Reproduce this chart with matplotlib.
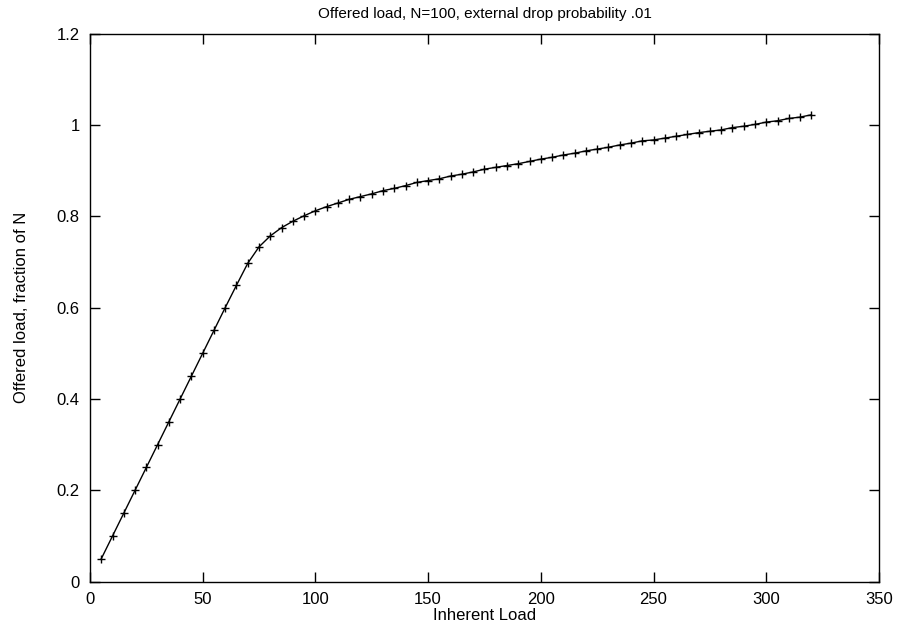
import matplotlib
matplotlib.use('Agg')
import matplotlib.pyplot as plt

# inherent load values (x) and offered load as fraction of N (y)
inherent_load = list(range(5, 325, 5))
offered_load = [
    0.05, 0.10, 0.15, 0.20, 0.25, 0.30, 0.35, 0.40, 0.45, 0.50,
    0.55, 0.60, 0.649, 0.697, 0.733, 0.757, 0.775, 0.789, 0.801, 0.812,
    0.821, 0.829, 0.837, 0.843, 0.849, 0.856, 0.861, 0.867, 0.874, 0.878,
    0.882, 0.888, 0.892, 0.897, 0.903, 0.907, 0.911, 0.915, 0.920, 0.925,
    0.929, 0.934, 0.938, 0.943, 0.947, 0.951, 0.956, 0.960, 0.965, 0.967,
    0.971, 0.975, 0.979, 0.983, 0.986, 0.989, 0.994, 0.997, 1.001, 1.006,
    1.009, 1.014, 1.017, 1.022,
]
x_ticks = [0, 50, 100, 150, 200, 250, 300, 350]
y_ticks = [0, 0.2, 0.4, 0.6, 0.8, 1.0, 1.2]
y_tick_labels = ['0', '0.2', '0.4', '0.6', '0.8', '1', '1.2']

plt.rcParams.update({'font.family': 'Liberation Sans', 'font.size': 12})
fig = plt.figure(figsize=(8.97, 6.25), dpi=100)
ax = fig.add_axes([0.1003, 0.0693, 0.8796, 0.8771])

ax.plot(inherent_load, offered_load, color='black', linewidth=1,
        marker='+', markersize=6, markeredgewidth=1)

ax.set_xlim(0, 350)
ax.set_ylim(0, 1.2)
ax.set_xticks(x_ticks)
ax.set_xticklabels([str(t) for t in x_ticks])
ax.set_yticks(y_ticks)
ax.set_yticklabels(y_tick_labels)
ax.tick_params(direction='in', length=7, width=1, top=True, right=True, pad=7.5)
for s in ax.spines.values():
    s.set_linewidth(1)

ax.set_title('Offered load, N=100, external drop probability .01', fontsize=11, pad=11)
ax.set_xlabel('Inherent Load', labelpad=1)
ax.set_ylabel('Offered load, fraction of N', labelpad=20)

fig.savefig('out.png', dpi=100)
